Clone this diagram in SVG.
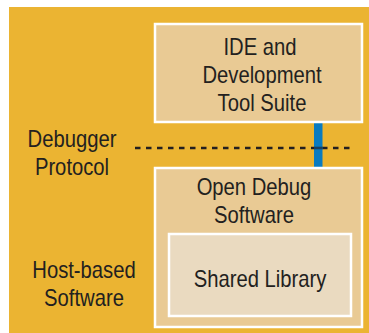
<svg xmlns="http://www.w3.org/2000/svg" width="369" height="333" viewBox="0 0 369 333">
  <style>
    .box { fill: #e9ca94; stroke: #ffffff; stroke-width: 2.5; }
    .inner { fill: #eadac0; stroke: #ffffff; stroke-width: 2.5; }
    .label { font-family: "Liberation Sans", Arial, sans-serif; font-size: 23px; fill: #231f20; text-anchor: middle; }
  </style>
  <rect x="0" y="0" width="369" height="333" fill="#ffffff"/>
  <rect x="9" y="7" width="360" height="326" fill="#ebb432"/>

  <g id="connectors">
    <line x1="135" y1="148" x2="354" y2="148" stroke="#231f20" stroke-width="2.6" stroke-dasharray="5.5 5.5"/>
    <rect x="314" y="123" width="8.5" height="45" fill="#0a7bbf"/>
    <line x1="314" y1="148" x2="322.5" y2="148" stroke="#1a3f5c" stroke-width="2.6"/>
  </g>

  <g id="ide">
    <rect class="box" x="155" y="24" width="207" height="98"/>
    <text class="label" transform="translate(260 55) scale(0.88 1)">IDE and</text>
    <text class="label" transform="translate(262 83) scale(0.88 1)">Development</text>
    <text class="label" transform="translate(262 111) scale(0.88 1)">Tool Suite</text>
  </g>

  <g id="protocol-label">
    <text class="label" transform="translate(72 147) scale(0.88 1)">Debugger</text>
    <text class="label" transform="translate(72 175) scale(0.88 1)">Protocol</text>
  </g>

  <g id="open-debug">
    <rect class="box" x="155" y="168" width="207" height="159"/>
    <text class="label" transform="translate(254 195) scale(0.88 1)">Open Debug</text>
    <text class="label" transform="translate(254 223) scale(0.88 1)">Software</text>
  </g>

  <g id="shared-library">
    <rect class="inner" x="169" y="234" width="182" height="82"/>
    <text class="label" transform="translate(260 287) scale(0.88 1)">Shared Library</text>
  </g>

  <g id="host-label">
    <text class="label" transform="translate(84 278) scale(0.88 1)">Host-based</text>
    <text class="label" transform="translate(84 306) scale(0.88 1)">Software</text>
  </g>
</svg>
